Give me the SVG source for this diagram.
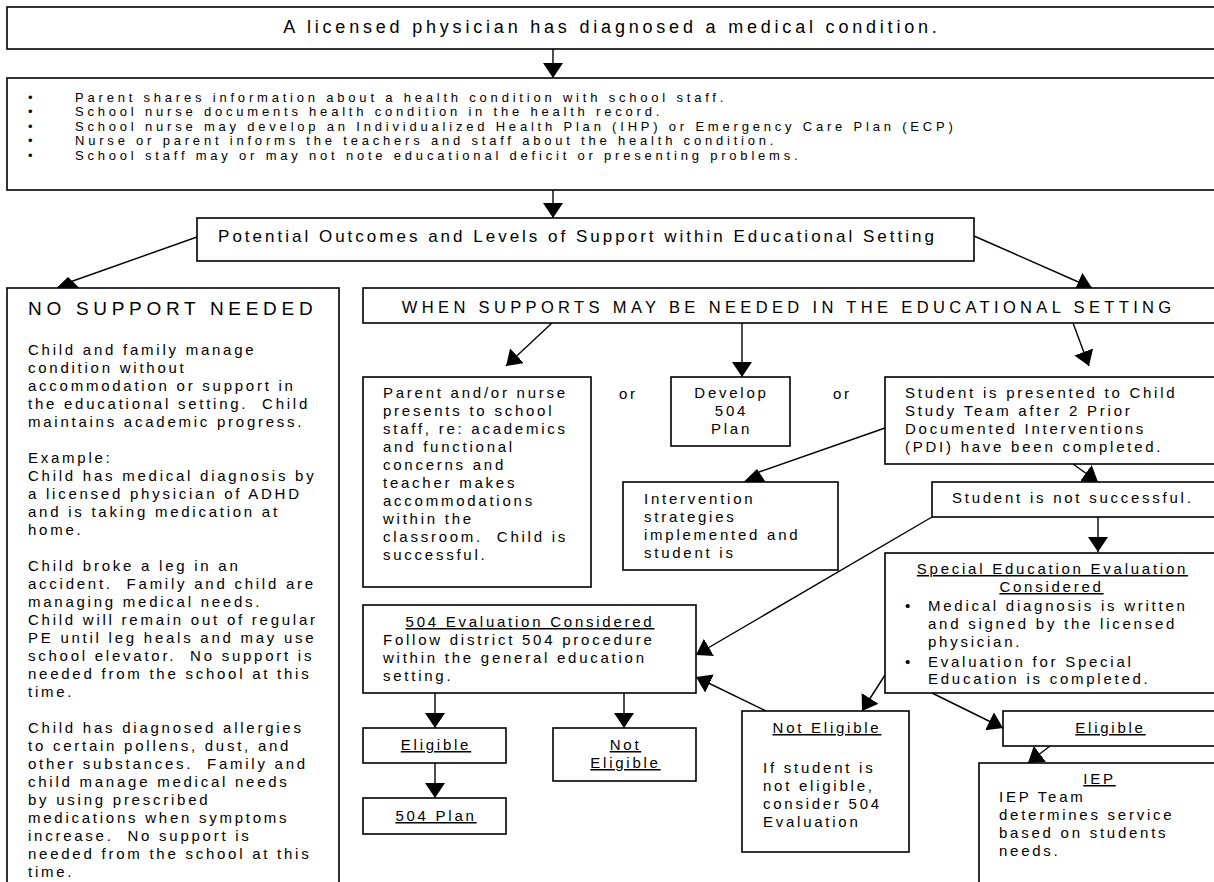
<svg xmlns="http://www.w3.org/2000/svg" width="1214" height="882" viewBox="0 0 1214 882">
<defs>
<marker id="ah" markerUnits="userSpaceOnUse" markerWidth="16" markerHeight="20" refX="15" refY="10" orient="auto" viewBox="0 0 16 20"><path d="M0,0 L15,10 L0,20 z" fill="#000"/></marker>
</defs>
<style>
.box{fill:#fff;stroke:#000;stroke-width:1.6}
.ln{stroke:#000;stroke-width:1.4;fill:none;marker-end:url(#ah)}
.pl{stroke:#000;stroke-width:1.4;fill:none}
.head{fill:#000}
text{font-family:"Liberation Sans",Arial,sans-serif;fill:#000;white-space:pre}
.b{font-size:15px;letter-spacing:2.75px}
.s{font-size:13px;letter-spacing:3.8px}
.u{text-decoration:underline}
.m{text-anchor:middle}
</style>
<rect width="1214" height="882" fill="#fff"/>
<g id="connectors">
<path class="ln" d="M553,49 L553,78"/>
<path class="ln" d="M553,190 L553,218"/>
<path class="pl" d="M197,237 L70,282"/>
<polygon class="head" points="68,277 56,288.5 80,288.5"/>
<path class="ln" d="M974,236 L1092,288"/>
<path class="ln" d="M552,323 L506,366"/>
<path class="ln" d="M742,323 L742,377"/>
<path class="ln" d="M1073,323 L1089,366"/>
<path class="ln" d="M1073,464 L1098,482"/>
<path class="ln" d="M1098,517 L1098,552"/>
<path class="ln" d="M932,517 L696,655"/>
<path class="ln" d="M766,711 L696,677"/>
<path class="ln" d="M885,675 L862,711"/>
<path class="ln" d="M932,693 L1003,728"/>
<path class="ln" d="M1050,746 L1028,763"/>
<path class="ln" d="M435,693 L435,728"/>
<path class="ln" d="M435,763 L435,798"/>
<path class="ln" d="M624,693 L624,728"/>
<path class="pl" d="M885,428 L759,472"/>
<polygon class="head" points="757,469 743,482.5 766,482.5"/>
</g>
<g id="diagnosis">
<rect class="box" x="7" y="7" width="1215" height="42"/>
<text class="m" x="612" y="33" style="font-size:18px;letter-spacing:3.8px">A licensed physician has diagnosed a medical condition.</text>
</g>
<g id="sharing">
<rect class="box" x="7" y="78" width="1215" height="112"/>
<text class="s"><tspan x="28" y="102">•</tspan><tspan x="75" y="102">Parent shares information about a health condition with school staff.</tspan><tspan x="28" y="116.4">•</tspan><tspan x="75" y="116.4">School nurse documents health condition in the health record.</tspan><tspan x="28" y="130.8">•</tspan><tspan x="75" y="130.8">School nurse may develop an Individualized Health Plan (IHP) or Emergency Care Plan (ECP)</tspan><tspan x="28" y="145.2">•</tspan><tspan x="75" y="145.2">Nurse or parent informs the teachers and staff about the health condition.</tspan><tspan x="28" y="159.6">•</tspan><tspan x="75" y="159.6">School staff may or may not note educational deficit or presenting problems.</tspan></text>
</g>
<g id="outcomes">
<rect class="box" x="197" y="218" width="777" height="43"/>
<text class="m" x="577.5" y="242" style="font-size:17px;letter-spacing:3px">Potential Outcomes and Levels of Support within Educational Setting</text>
</g>
<g id="no-support">
<rect class="box" x="7" y="288" width="332" height="600"/>
<text x="28" y="315" style="font-size:19px;letter-spacing:4.7px">NO SUPPORT NEEDED</text>
<text class="b"><tspan x="28" y="355">Child and family manage</tspan><tspan x="28" y="373">condition without</tspan><tspan x="28" y="391">accommodation or support in</tspan><tspan x="28" y="409">the educational setting.  Child</tspan><tspan x="28" y="427">maintains academic progress.</tspan><tspan x="28" y="463">Example:</tspan><tspan x="28" y="481">Child has medical diagnosis by</tspan><tspan x="28" y="499">a licensed physician of ADHD</tspan><tspan x="28" y="517">and is taking medication at</tspan><tspan x="28" y="535">home.</tspan><tspan x="28" y="571">Child broke a leg in an</tspan><tspan x="28" y="589">accident.  Family and child are</tspan><tspan x="28" y="607">managing medical needs.</tspan><tspan x="28" y="625">Child will remain out of regular</tspan><tspan x="28" y="643">PE until leg heals and may use</tspan><tspan x="28" y="661">school elevator.  No support is</tspan><tspan x="28" y="679">needed from the school at this</tspan><tspan x="28" y="697">time.</tspan><tspan x="28" y="733">Child has diagnosed allergies</tspan><tspan x="28" y="751">to certain pollens, dust, and</tspan><tspan x="28" y="769">other substances.  Family and</tspan><tspan x="28" y="787">child manage medical needs</tspan><tspan x="28" y="805">by using prescribed</tspan><tspan x="28" y="823">medications when symptoms</tspan><tspan x="28" y="841">increase.  No support is</tspan><tspan x="28" y="859">needed from the school at this</tspan><tspan x="28" y="877">time.</tspan></text>
</g>
<g id="supports-needed">
<rect class="box" x="363" y="288" width="860" height="35"/>
<text class="m" x="788.7" y="313" style="font-size:16.5px;letter-spacing:4.35px">WHEN SUPPORTS MAY BE NEEDED IN THE EDUCATIONAL SETTING</text>
</g>
<g id="parent-nurse">
<rect class="box" x="363" y="377" width="228" height="210"/>
<text class="b"><tspan x="383" y="398">Parent and/or nurse</tspan><tspan x="383" y="416">presents to school</tspan><tspan x="383" y="434">staff, re: academics</tspan><tspan x="383" y="452">and functional</tspan><tspan x="383" y="470">concerns and</tspan><tspan x="383" y="488">teacher makes</tspan><tspan x="383" y="506">accommodations</tspan><tspan x="383" y="524">within the</tspan><tspan x="383" y="542">classroom.  Child is</tspan><tspan x="383" y="560">successful.</tspan></text>
</g>
<g id="or-labels">
<text class="b" x="619" y="399">or</text>
<text class="b" x="833" y="399">or</text>
</g>
<g id="develop-504">
<rect class="box" x="671" y="377" width="119" height="69"/>
<text class="b m"><tspan x="731.5" y="398">Develop</tspan><tspan x="731.5" y="416">504</tspan><tspan x="731.5" y="434">Plan</tspan></text>
</g>
<g id="child-study">
<rect class="box" x="885" y="377" width="340" height="87"/>
<text class="b"><tspan x="905" y="398">Student is presented to Child</tspan><tspan x="905" y="416">Study Team after 2 Prior</tspan><tspan x="905" y="434">Documented Interventions</tspan><tspan x="905" y="452">(PDI) have been completed.</tspan></text>
</g>
<g id="intervention">
<rect class="box" x="623" y="482" width="215" height="88"/>
<text class="b"><tspan x="644" y="504">Intervention</tspan><tspan x="644" y="522">strategies</tspan><tspan x="644" y="540">implemented and</tspan><tspan x="644" y="558">student is</tspan></text>
</g>
<g id="not-successful">
<rect class="box" x="932" y="482" width="290" height="35"/>
<text class="b" x="952" y="503">Student is not successful.</text>
</g>
<g id="special-ed">
<rect class="box" x="885" y="553" width="340" height="140"/>
<text class="b m u"><tspan x="1052.5" y="574">Special Education Evaluation</tspan><tspan x="1051.5" y="592">Considered</tspan></text>
<text class="b"><tspan x="905" y="611">•</tspan><tspan x="928" y="611">Medical diagnosis is written</tspan><tspan x="928" y="629">and signed by the licensed</tspan><tspan x="928" y="647">physician.</tspan><tspan x="905" y="667">•</tspan><tspan x="928" y="667">Evaluation for Special</tspan><tspan x="928" y="684">Education is completed.</tspan></text>
</g>
<g id="eval-504">
<rect class="box" x="363" y="605" width="333" height="88"/>
<text class="b m u" x="530" y="627">504 Evaluation Considered</text>
<text class="b"><tspan x="383" y="645">Follow district 504 procedure</tspan><tspan x="383" y="663">within the general education</tspan><tspan x="383" y="681">setting.</tspan></text>
</g>
<g id="eligible-504">
<rect class="box" x="363" y="728" width="143" height="35"/>
<text class="b m u" x="436" y="750">Eligible</text>
</g>
<g id="plan-504">
<rect class="box" x="363" y="798" width="143" height="36"/>
<text class="b m u" x="436" y="821">504 Plan</text>
</g>
<g id="not-eligible-504">
<rect class="box" x="553" y="728" width="143" height="53"/>
<text class="b m u"><tspan x="625.5" y="750">Not</tspan><tspan x="625.5" y="768">Eligible</tspan></text>
</g>
<g id="not-eligible-sped">
<rect class="box" x="742" y="711" width="167" height="141"/>
<text class="b m u" x="827" y="733">Not Eligible</text>
<text class="b"><tspan x="763" y="773">If student is</tspan><tspan x="763" y="791">not eligible,</tspan><tspan x="763" y="809">consider 504</tspan><tspan x="763" y="827">Evaluation</tspan></text>
</g>
<g id="eligible-sped">
<rect class="box" x="1003" y="711" width="220" height="35"/>
<text class="b m u" x="1110.5" y="733">Eligible</text>
</g>
<g id="iep">
<rect class="box" x="979" y="763" width="250" height="130"/>
<text class="b m u" x="1099.5" y="784">IEP</text>
<text class="b"><tspan x="999" y="802">IEP Team</tspan><tspan x="999" y="820">determines service</tspan><tspan x="999" y="838">based on students</tspan><tspan x="999" y="856">needs.</tspan></text>
</g>
</svg>
